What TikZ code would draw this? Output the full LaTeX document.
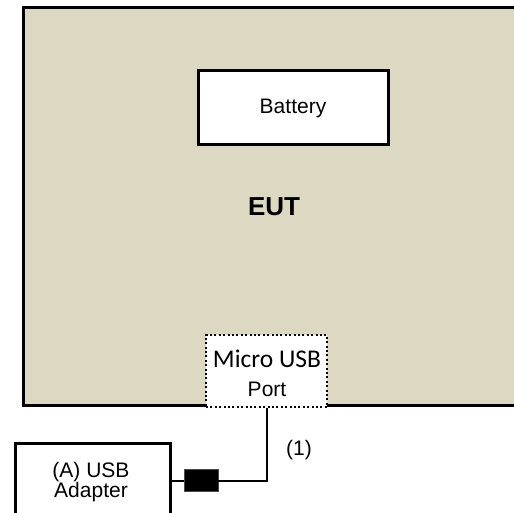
\documentclass[tikz,border=0pt]{standalone}
\usepackage{fontspec}
\setmainfont{Liberation Sans}
\newfontfamily\calibrifont{Carlito}
\usetikzlibrary{positioning}

\begin{document}
\begin{tikzpicture}[x=1pt,y=-1pt]
\tikzset{
  eutbox/.style={rectangle,draw=black,fill=eutfill,line width=3pt,inner sep=0pt},
  unitbox/.style={rectangle,draw=black,fill=white,line width=3pt,inner sep=0pt},
  portbox/.style={rectangle,draw=black,fill=white,line width=2pt,dash pattern=on 2pt off 2.4pt,inner sep=0pt},
  plugbox/.style={rectangle,draw=black!70,fill=black,line width=0.6pt,minimum width=34pt,minimum height=22pt,inner sep=0pt},
  cable/.style={draw=black,line width=2pt},
  plain/.style={inner sep=0pt,anchor=base,font=\fontsize{21}{25}\selectfont}
}
\definecolor{eutfill}{HTML}{DDD8C2}
\useasboundingbox (0,0) rectangle (514,513);
\clip (0,0) rectangle (514,513);
\node[eutbox,minimum width=502pt,minimum height=398pt,font=\fontsize{26}{30}\selectfont\bfseries] (n_eut) at (274,206.5) {EUT};
\node[unitbox,minimum width=190pt,minimum height=74pt,font=\fontsize{21}{25}\selectfont] (n_battery) at (293,108) {Battery};
% micro usb port on the bottom edge
\node[portbox,minimum width=121pt,minimum height=72pt] (n_port) at (266.5,371) {};
\node[plain,font=\calibrifont\fontsize{25.5}{27}\selectfont] (n_portlbl) at (267,367) {Micro USB};
\node[plain] (n_portlbl2) at (267,396) {Port};
% adapter and cable
\node[unitbox,minimum width=155pt,minimum height=100pt,anchor=north west] (n_adapter) at (14,442) {};
\node[plain] (n_adapterlbl) at (91,477) {(A) USB};
\node[plain] (n_adapterlbl2) at (91,497) {Adapter};
\node[plugbox] (n_plug) at (201,480.5) {};
\node[plain] (n_cablelbl) at (299,455) {(1)};
\draw[cable] (n_port.south) |- (n_plug.east);
\draw[cable] (n_plug.west) -- (n_plug.west -| n_adapter.east);
\end{tikzpicture}
\end{document}
